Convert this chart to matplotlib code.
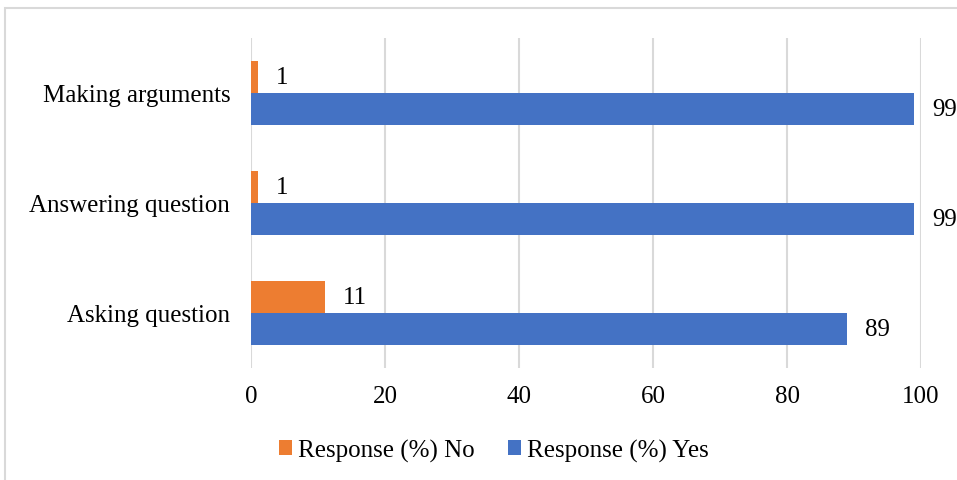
import matplotlib
matplotlib.use("Agg")
import matplotlib.pyplot as plt
import numpy as np
from matplotlib.patches import Rectangle

categories = ["Asking question", "Answering question", "Making arguments"]
no_vals = [11, 1, 1]
yes_vals = [89, 99, 99]
x_ticks = [0, 20, 40, 60, 80, 100]

ORANGE = "#ED7D31"
BLUE = "#4472C4"
GRID = "#D9D9D9"

plt.rcParams["font.family"] = ["Liberation Serif", "DejaVu Serif"]
FS = 18

fig = plt.figure(figsize=(9.57, 4.81), dpi=100)
ax = fig.add_axes([251 / 957, 1 - 369 / 481, 670 / 957, 330 / 481])

y = np.arange(len(categories))
h = 0.29
b_no = ax.barh(y + h / 2, no_vals, height=h, color=ORANGE, label="Response (%) No", zorder=3)
b_yes = ax.barh(y - h / 2, yes_vals, height=h, color=BLUE, label="Response (%) Yes", zorder=3)

for bars, vals in ((b_no, no_vals), (b_yes, yes_vals)):
    for bar, v in zip(bars, vals):
        ax.annotate(f"{v}", (bar.get_width(), bar.get_y() + bar.get_height() / 2),
                    xytext=(13, 0), textcoords="offset points",
                    ha="left", va="center", fontsize=FS, color="black")

ax.set_xlim(0, 100)
ax.set_ylim(-0.5, 2.5)
ax.set_xticks(x_ticks)
ax.set_yticks(y)
ax.set_yticklabels(categories)
ax.tick_params(axis="both", length=0, labelsize=FS)
ax.tick_params(axis="y", pad=15)
ax.tick_params(axis="x", pad=12)
ax.grid(axis="x", color=GRID, lw=1.5, zorder=0)
for s in ax.spines.values():
    s.set_visible(False)

fig.legend(handles=[b_no, b_yes], loc="center", bbox_to_anchor=(0.516, 1 - 451 / 481),
           ncol=2, frameon=False, fontsize=FS, handlelength=0.52, handleheight=0.52,
           handletextpad=0.24, columnspacing=1.32)

# light outer frame of the chart area
fig.add_artist(Rectangle((5 / 957, -0.1), 1.2, 1 - 9 / 481 + 0.1, transform=fig.transFigure,
                         fill=False, edgecolor=GRID, lw=1.5, clip_on=False))

fig.savefig("out.png", dpi=100)
